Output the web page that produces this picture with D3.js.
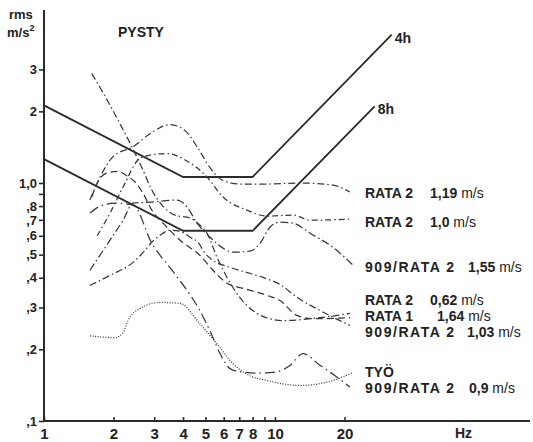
<!DOCTYPE html>
<html><head><meta charset="utf-8">
<script src="https://cdnjs.cloudflare.com/ajax/libs/d3/7.8.5/d3.min.js"></script>
<style>
body{margin:0;background:#fff;}
svg text{font-family:"Liberation Sans",Arial,Helvetica,sans-serif;fill:#222;}
</style></head><body>
<svg id="chart" width="533" height="442"></svg>
<script>
// ---------- data ----------
const xTickValues=[1,2,3,4,5,6,7,8,9,10,20];
const xTickLabels=["1","2","3","4","5","6","7","8","","10","20"];
const yTickValues=[0.1,0.2,0.3,0.4,0.5,0.6,0.7,0.8,0.9,1,2,3];
const yTickLabels=[",1",",2",",3",",4",",5",",6",",7",",8","","1,0","2","3"];

const limit4h=[[1,2.12],[4,1.06],[8,1.06],[32,4.2]];
const limit8h=[[1,1.26],[4,0.63],[8,0.63],[27,2.1]];
const limitNames=["4h","8h"];

const rata2_119=[[1.58,0.848],[1.75,1.06],[1.99,1.29],[2.43,1.42],[2.93,1.63],[3.51,1.76],[4.08,1.66],[4.60,1.42],[5.23,1.16],[5.90,1.03],[7.05,0.99],[9.23,0.99],[12.8,1.0],[17.8,0.98],[21.1,0.916]];
const rata2_10=[[1.70,0.60],[1.93,0.747],[2.20,0.962],[2.60,1.27],[2.88,1.31],[3.41,1.33],[4.08,1.25],[5.08,1.06],[5.96,0.873],[7.56,0.769],[9.23,0.726],[12.0,0.733],[14.2,0.698],[21.1,0.705]];
const rata909_155=[[1.58,0.43],[1.93,0.575],[2.20,0.698],[2.43,0.823],[2.88,0.831],[3.77,0.848],[4.16,0.792],[4.60,0.678],[5.23,0.592],[5.96,0.532],[6.58,0.512],[7.79,0.517],[8.61,0.558],[9.51,0.652],[10.5,0.685],[12.0,0.678],[14.2,0.615],[17.8,0.537],[21.8,0.451]];
const rata2_062=[[1.61,2.88],[1.84,2.31],[2.09,1.84],[2.40,1.42],[2.68,1.135],[2.93,0.934],[3.24,0.808],[3.69,0.733],[4.29,0.712],[4.73,0.665],[5.08,0.615],[5.61,0.487],[6.20,0.401],[7.05,0.330],[8.36,0.283],[9.51,0.269],[10.8,0.264],[14.2,0.269],[21.1,0.283]];
const rata1_164=[[1.61,0.873],[1.70,1.0],[1.87,1.10],[2.09,1.12],[2.29,1.07],[2.48,1.01],[2.68,0.907],[2.93,0.769],[3.34,0.665],[3.88,0.575],[4.73,0.497],[5.39,0.430],[6.20,0.379],[7.27,0.361],[9.23,0.337],[10.5,0.321],[12.5,0.277],[14.6,0.269],[21.1,0.272]];
const rata909_103=[[1.58,0.371],[1.93,0.409],[2.43,0.464],[2.74,0.522],[2.93,0.564],[3.18,0.603],[3.51,0.633],[3.88,0.627],[4.29,0.592],[4.64,0.564],[4.98,0.507],[5.39,0.473],[6.39,0.442],[8.87,0.401],[10.5,0.375],[12.5,0.330],[15.7,0.291],[21.1,0.252]];
const tyo=[[1.58,0.228],[2.03,0.224],[2.20,0.235],[2.31,0.264],[2.60,0.297],[3.18,0.315],[3.88,0.312],[4.73,0.256],[5.61,0.211],[6.58,0.174],[7.79,0.155],[9.23,0.148],[12.8,0.141],[17.8,0.148],[21.8,0.160]];
const rata909_09=[[1.58,0.747],[1.75,0.80],[2.03,0.823],[2.43,0.808],[2.93,0.558],[3.58,0.430],[4.37,0.330],[4.73,0.291],[5.39,0.224],[5.78,0.192],[6.39,0.166],[7.05,0.161],[8.61,0.159],[10.2,0.161],[11.6,0.171],[13.2,0.192],[15.7,0.171],[18.2,0.155],[21.1,0.139]];

const seriesNames=["RATA 2","RATA 2","909/RATA 2","RATA 2","RATA 1","909/RATA 2","TYÖ","909/RATA 2"];
const seriesSpeeds=["1,19","1,0","1,55","0,62","1,64","1,03","","0,9"];
const seriesUnit="m/s";

// ---------- layout / styles ----------
const seriesData=[rata2_119,rata2_10,rata909_155,rata2_062,rata1_164,rata909_103,tyo,rata909_09];
const dashes=["7,3,1.5,3","6,3,1.5,3","8,3,1.5,3","7,3,1.5,3","7,4","7,3,1.5,3","1,1.6","10,4,1.5,4"];
const labelPos=[[365,198,430],[365,227,430],[365,272,468],[365,305,430],[365,321,437],[365,337,467],[365,377,0],[365,393,469]];

const svg=d3.select("#chart");
const x=d3.scaleLog().domain([1,10]).range([44,275]);
const y=d3.scaleLog().domain([0.1,1]).range([421,183]);
const ink="#2b2b2b";
const FONT="Liberation Sans, Arial, sans-serif";

// axes
const ymap=new Map(yTickValues.map((v,i)=>[v,yTickLabels[i]]));
const xmap=new Map(xTickValues.map((v,i)=>[v,xTickLabels[i]]));
const gy=svg.append("g").attr("transform","translate(44,0)")
  .call(d3.axisLeft(y).tickValues(yTickValues).tickFormat(d=>ymap.get(d)).tickSize(5).tickPadding(2));
gy.select(".domain").remove();
gy.selectAll("line").attr("stroke",ink).attr("stroke-width",1.6);
gy.selectAll("text").attr("font-size",13).attr("font-weight","bold").attr("font-family",FONT).attr("fill",ink);

const gx=svg.append("g").attr("transform","translate(0,421)")
  .call(d3.axisBottom(x).tickValues(xTickValues).tickFormat(d=>xmap.get(d)).tickSizeInner(-4).tickSizeOuter(0).tickPadding(7));
gx.select(".domain").remove();
gx.selectAll("line").attr("stroke",ink).attr("stroke-width",1.6);
gx.selectAll("text").attr("font-size",15).attr("font-weight","bold").attr("font-family",FONT).attr("fill",ink);

svg.append("line").attr("x1",44).attr("x2",44).attr("y1",10).attr("y2",422).attr("stroke",ink).attr("stroke-width",2);
svg.append("line").attr("x1",43).attr("x2",530).attr("y1",421).attr("y2",421).attr("stroke",ink).attr("stroke-width",2);

// axis titles
svg.append("text").attr("x",9).attr("y",19).attr("font-size",13).attr("font-weight","bold").text("rms");
const mt=svg.append("text").attr("x",7).attr("y",37).attr("font-size",13).attr("font-weight","bold");
mt.append("tspan").text("m/s");
mt.append("tspan").attr("font-size",9).attr("dy",-6).text("2");
svg.append("text").attr("x",118).attr("y",37).attr("font-size",14).attr("font-weight","bold").text("PYSTY");
svg.append("text").attr("x",455).attr("y",438).attr("font-size",14).attr("font-weight","bold").text("Hz");

// limit lines
const lineGen=d3.line().x(d=>x(d[0])).y(d=>y(d[1]));
[limit4h,limit8h].forEach((L,i)=>{
  svg.append("path").attr("d",lineGen(L)).attr("fill","none").attr("stroke",ink).attr("stroke-width",1.8);
  const e=L[L.length-1];
  svg.append("text").attr("x",x(e[0])+3).attr("y",y(e[1])+8).attr("font-size",14).attr("font-weight","bold").text(limitNames[i]);
});

// measured curves
const curveGen=d3.line().x(d=>x(d[0])).y(d=>y(d[1])).curve(d3.curveMonotoneX);
seriesData.forEach((s,i)=>{
  svg.append("path").attr("d",curveGen(s)).attr("fill","none").attr("stroke","#383838")
    .attr("stroke-width",1.25).attr("stroke-dasharray",dashes[i]);
});

// right-side labels
seriesNames.forEach((n,i)=>{
  const p=labelPos[i];
  const t0=svg.append("text").attr("x",p[0]).attr("y",p[1]).attr("font-size",14).attr("font-weight","bold").text(n);
  if(n.length>8) t0.attr("textLength",89).attr("lengthAdjust","spacing");
  if(seriesSpeeds[i]){
    const t=svg.append("text").attr("x",p[2]).attr("y",p[1]).attr("font-size",14);
    t.append("tspan").attr("font-weight","bold").text(seriesSpeeds[i]+" ");
    t.append("tspan").text(seriesUnit);
  }
});
</script></body></html>
